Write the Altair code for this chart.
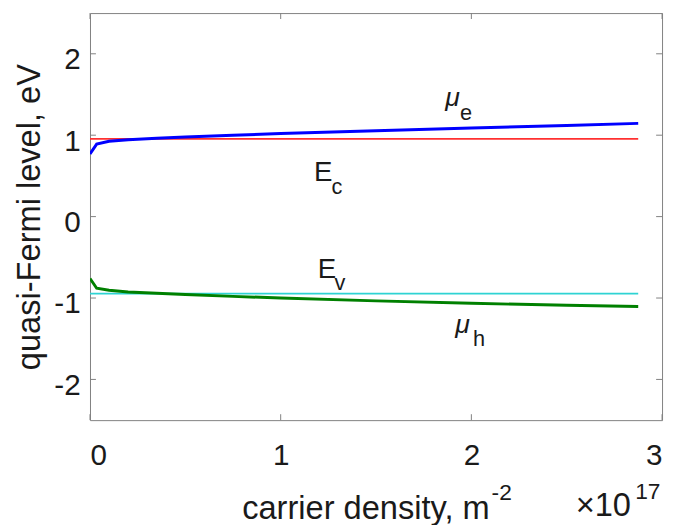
import altair as alt
import pandas as pd

# ---- data ----
density = [0, 0.035, 0.1, 0.2, 0.35, 0.5, 0.75, 1.0, 1.5, 2.0, 2.5, 2.875]  # x 1e17 m^-2
mu_e = [0.77, 0.89, 0.925, 0.945, 0.963, 0.978, 1.0, 1.02, 1.055, 1.088, 1.118, 1.145]
mu_h = [-0.76, -0.88, -0.905, -0.925, -0.942, -0.958, -0.98, -1.0, -1.035, -1.065, -1.09, -1.105]
E_c = 0.955
E_v = -0.945

x_ticks = [0, 1, 2, 3]
y_ticks = [-2, -1, 0, 1, 2]

# annotation texts (data coordinates)
main_text = ["E", "E"]
main_x = [1.175, 1.194]
main_y = [0.437, -0.752]
mu_text = ["\u03bc", "\u03bc"]
mu_x = [1.863, 1.915]
mu_y = [1.359, -1.432]
sub_text = ["c", "v", "e", "h"]
sub_x = [1.267, 1.282, 1.940, 2.008]
sub_y = [0.279, -0.898, 1.189, -1.590]

# axis-title pieces (data coordinates, outside the plot)
xt_text = ["carrier density, m", "\u00d710"]
xt_x = [2.096, 2.547]
xt_y = [-3.714, -3.677]
xt_align = ["right", "left"]
sup_text = ["-2", "17"]
sup_x = [2.106, 2.859]
sup_y = [-3.483, -3.471]

W, H = 579, 412
FONT = "Liberation Sans"
TXT = "#1a1a1a"

xs = alt.Scale(domain=[0, 3], nice=False, zero=False)
ys = alt.Scale(domain=[-2.5, 2.5], nice=False, zero=False)

x_axis = alt.Axis(values=x_ticks, ticks=False, tickSize=0, domain=False, grid=False,
                  title=None, labelFontSize=30, labelFont=FONT, labelColor=TXT,
                  labelPadding=21, labelExpr="datum.value + ''")
y_axis = alt.Axis(values=y_ticks, ticks=False, tickSize=0, domain=False, grid=False,
                  title="quasi-Fermi level, eV", titleFontSize=33, titleFont=FONT,
                  titleFontWeight="normal", titleColor=TXT, titleAngle=270,
                  titleBaseline="alphabetic", titleX=-51, titleY=H / 2,
                  titleAnchor="middle", titleAlign="center",
                  labelFontSize=30, labelFont=FONT, labelColor=TXT,
                  labelPadding=10, labelOffset=6, labelExpr="datum.value + ''")

n = len(density)
lines_df = pd.DataFrame({
    "x": density * 4,
    "y": mu_e + [E_c] * n + mu_h + [E_v] * n,
    "s": ["mu_e"] * n + ["Ec"] * n + ["mu_h"] * n + ["Ev"] * n,
})

def line(series, color, width):
    return alt.Chart(lines_df).transform_filter(alt.datum.s == series).mark_line(
        color=color, strokeWidth=width, clip=True
    ).encode(
        x=alt.X("x:Q", scale=xs, axis=x_axis),
        y=alt.Y("y:Q", scale=ys, axis=y_axis),
    )

ec = line("Ec", "#ff3030", 1.8)
ev = line("Ev", "#2ed3d3", 1.8)
me = line("mu_e", "#0000ff", 3)
mh = line("mu_h", "#008000", 3)

# inward ticks on all four sides
xt_df = pd.DataFrame({"x": x_ticks})
yt_df = pd.DataFrame({"y": y_ticks})
tick_col = "#808080"
bt = alt.Chart(xt_df).mark_rule(color=tick_col).encode(
    x=alt.X("x:Q", scale=xs, axis=x_axis), y=alt.value(H - 6), y2=alt.value(H))
tt = alt.Chart(xt_df).mark_rule(color=tick_col).encode(
    x=alt.X("x:Q", scale=xs, axis=x_axis), y=alt.value(0), y2=alt.value(6))
lt = alt.Chart(yt_df).mark_rule(color=tick_col).encode(
    y=alt.Y("y:Q", scale=ys, axis=y_axis), x=alt.value(0), x2=alt.value(6))
rt = alt.Chart(yt_df).mark_rule(color=tick_col).encode(
    y=alt.Y("y:Q", scale=ys, axis=y_axis), x=alt.value(W - 6), x2=alt.value(W))

def text_layer(df, size, style="normal", align="left"):
    return alt.Chart(df).mark_text(
        font=FONT, fontSize=size, fontStyle=style, color=TXT,
        align=align, baseline="alphabetic"
    ).encode(
        x=alt.X("x:Q", scale=xs, axis=x_axis),
        y=alt.Y("y:Q", scale=ys, axis=y_axis),
        text="t:N",
    )

main_lbl = text_layer(pd.DataFrame({"t": main_text, "x": main_x, "y": main_y}), 28)
mu_lbl = text_layer(pd.DataFrame({"t": mu_text, "x": mu_x, "y": mu_y}), 27, "italic")
sub_lbl = text_layer(pd.DataFrame({"t": sub_text, "x": sub_x, "y": sub_y}), 22)

xt_df2 = pd.DataFrame({"t": xt_text, "x": xt_x, "y": xt_y, "a": xt_align})
xtitle = alt.layer(
    text_layer(xt_df2[xt_df2.a == "right"], 33, align="right"),
    text_layer(xt_df2[xt_df2.a == "left"], 33, align="left"),
)
sup_lbl = text_layer(pd.DataFrame({"t": sup_text, "x": sup_x, "y": sup_y}), 23)

chart = alt.layer(
    ec, ev, me, mh, bt, tt, lt, rt, main_lbl, mu_lbl, sub_lbl, xtitle, sup_lbl
).properties(
    width=W, height=H,
    autosize=alt.AutoSizeParams(type="none"),
    padding={"left": 83, "top": 2, "right": 4, "bottom": 103},
).configure_view(stroke="#808080", strokeWidth=1)

chart.save("out.html", embed_options={"renderer": "svg", "actions": False})
